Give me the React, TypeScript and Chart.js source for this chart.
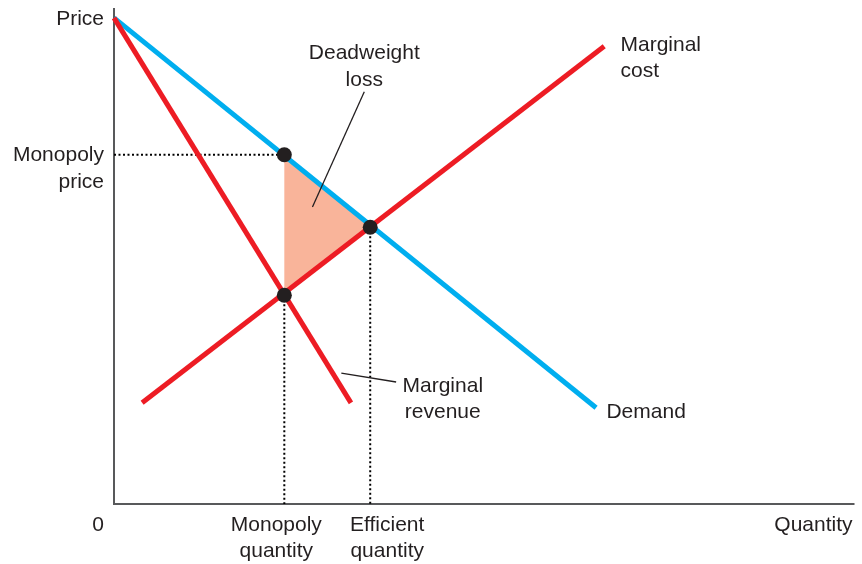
import React, { useEffect, useRef } from "react";
import { Chart, registerables } from "chart.js";

Chart.register(...registerables);

// Data in abstract units (quantity 0..100, price 0..100)
const demandLine = [
  { x: 0, y: 98 },
  { x: 65.1, y: 19.4 },
];
const marginalRevenueLine = [
  { x: 0, y: 98 },
  { x: 32.0, y: 20.4 },
];
const marginalCostLine = [
  { x: 3.8, y: 20.4 },
  { x: 66.2, y: 92.3 },
];
const keyPoints = [
  { x: 23.0, y: 70.4 },
  { x: 34.6, y: 55.8 },
  { x: 23.0, y: 42.1 },
];
const deadweightTriangle = [
  { x: 23.0, y: 70.4 },
  { x: 34.6, y: 55.8 },
  { x: 23.0, y: 42.1 },
  { x: 23.0, y: 70.4 },
];
const monopolyPriceGuide = [
  { x: 0, y: 70.4 },
  { x: 23.0, y: 70.4 },
];
const monopolyQuantityGuide = [
  { x: 23.0, y: 42.1 },
  { x: 23.0, y: 0 },
];
const efficientQuantityGuide = [
  { x: 34.6, y: 55.8 },
  { x: 34.6, y: 0 },
];
const deadweightPointer = [
  { x: 33.8, y: 83.1 },
  { x: 26.8, y: 59.9 },
];
const revenuePointer = [
  { x: 30.7, y: 26.4 },
  { x: 38.1, y: 24.6 },
];

const TEXT = "#231f20";
const FONT = '21px "Liberation Sans", Arial, sans-serif';

type Label = { text: string[]; x: number; y: number; align: CanvasTextAlign };
// label anchors in data units
const plotLabels: Label[] = [
  { text: ["Deadweight", "loss"], x: 33.8, y: 91.2, align: "center" },
  { text: ["Marginal", "cost"], x: 68.4, y: 93.0, align: "left" },
  { text: ["Marginal", "revenue"], x: 44.4, y: 24.2, align: "center" },
  { text: ["Demand"], x: 66.5, y: 19.0, align: "left" },
];

export default function App() {
  const ref = useRef<HTMLCanvasElement | null>(null);
  useEffect(() => {
    document.body.style.margin = "0";
    const canvas = ref.current;
    if (!canvas) return;

    const textPlugin = {
      id: "texts",
      beforeDatasetsDraw(chart: any) {
        const { ctx, chartArea } = chart;
        ctx.save();
        ctx.strokeStyle = "#58595b";
        ctx.lineWidth = 2;
        ctx.beginPath();
        ctx.moveTo(chartArea.left, chartArea.top);
        ctx.lineTo(chartArea.left, chartArea.bottom);
        ctx.lineTo(chartArea.right, chartArea.bottom);
        ctx.stroke();
        ctx.restore();
      },
      afterDraw(chart: any) {
        const { ctx, chartArea, scales } = chart;
        const xs = scales.x;
        const ys = scales.y;
        ctx.save();
        ctx.fillStyle = TEXT;
        ctx.font = FONT;
        ctx.textBaseline = "middle";
        const lh = 26.5;
        const off = 2;
        for (const l of plotLabels) {
          ctx.textAlign = l.align;
          const px = xs.getPixelForValue(l.x);
          const py = ys.getPixelForValue(l.y) + off;
          l.text.forEach((t, i) => ctx.fillText(t, px, py + i * lh));
        }
        // axis labels
        const L = chartArea.left;
        const B = chartArea.bottom;
        ctx.textAlign = "right";
        ctx.fillText("Price", L - 10, ys.getPixelForValue(98.2) + off);
        const mp = ys.getPixelForValue(70.4) + 0.5;
        ctx.fillText("Monopoly", L - 10, mp);
        ctx.fillText("price", L - 10, mp + lh);
        ctx.fillText("0", L - 10, B + 19 + off);
        ctx.fillText("Quantity", chartArea.right - 2, B + 19 + off);
        ctx.textAlign = "center";
        const mq = xs.getPixelForValue(23.0) - 8;
        ctx.fillText("Monopoly", mq, B + 19 + off);
        ctx.fillText("quantity", mq, B + 19 + off + lh);
        const eq = xs.getPixelForValue(34.6) + 17;
        ctx.fillText("Efficient", eq, B + 19 + off);
        ctx.fillText("quantity", eq, B + 19 + off + lh);
        ctx.restore();
      },
    };

    const lineDs = (data: any[], color: string, width: number, order: number, dash: number[] = []) => ({
      data,
      showLine: true,
      borderColor: color,
      borderWidth: width,
      borderDash: dash,
      pointRadius: 0,
      fill: false,
      order,
      clip: false as any,
      borderCapStyle: "butt" as const,
    });

    const chart = new Chart(canvas, {
      type: "scatter",
      data: {
        datasets: [
          {
            data: keyPoints,
            pointRadius: 7.5,
            pointBackgroundColor: TEXT,
            pointBorderWidth: 0,
            showLine: false,
            order: 0,
            clip: false as any,
          },
          lineDs(demandLine, "#00aeef", 5, 2),
          lineDs(marginalCostLine, "#ed1c24", 5, 1),
          lineDs(marginalRevenueLine, "#ed1c24", 5, 1),
          lineDs(deadweightPointer, "#231f20", 1.3, 1),
          lineDs(revenuePointer, "#231f20", 1.3, 1),
          lineDs(monopolyPriceGuide, "#000000", 2, 3, [2, 2.5]),
          lineDs(monopolyQuantityGuide, "#000000", 2, 3, [2, 2.5]),
          lineDs(efficientQuantityGuide, "#000000", 2, 3, [2, 2.5]),
          {
            data: deadweightTriangle,
            showLine: true,
            borderWidth: 0,
            borderColor: "rgba(0,0,0,0)",
            backgroundColor: "#f9b49a",
            fill: "shape",
            pointRadius: 0,
            order: 4,
            tension: 0,
          } as any,
        ],
      },
      options: {
        responsive: false,
        animation: false,
        layout: { padding: { left: 114, right: 5, top: 8, bottom: 60 } },
        scales: {
          x: { type: "linear", min: 0, max: 100, display: false },
          y: { type: "linear", min: 0, max: 100, display: false },
        },
        plugins: {
          legend: { display: false },
          tooltip: { enabled: false },
        },
        elements: { line: { tension: 0 } },
      },
      plugins: [textPlugin],
    });
    return () => chart.destroy();
  }, []);

  return (
    <div style={{ width: 862, height: 564, background: "#fff" }}>
      <canvas ref={ref} width={862} height={564} style={{ display: "block" }} />
    </div>
  );
}
